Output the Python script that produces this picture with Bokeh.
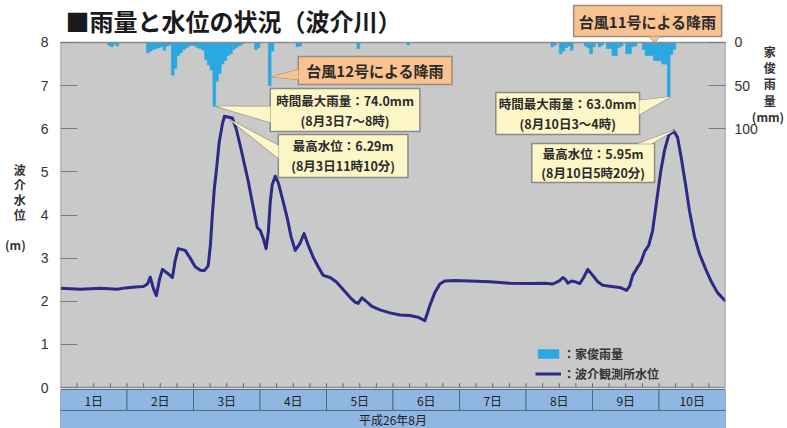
from bokeh.plotting import figure
from bokeh.models import Range1d, LinearAxis, FixedTicker, Label, Legend, LegendItem
from bokeh.embed import file_html
from bokeh.resources import INLINE
from bokeh.core.properties import value

JP = "Noto Sans CJK JP"
FILL_LINE = "\u3000"  # blank line used to lift a stacked axis title
INDENT = "\u3000"     # centres a single kanji over "(mm)"

# Water level at the Hakeigawa gauge (m); hours counted from 1 Aug 00:00
level_hour = [0, 7.2, 14.4, 20.5, 23.4, 27.0, 29.9, 31.4, 32.4, 33.5, 34.6, 35.7, 36.8,
              38.6, 40.4, 41.4, 42.5, 45.0, 46.8, 48.6, 50.5, 51.9, 53.3, 54.1, 54.8,
              55.5, 56.2, 57.3, 58.4, 59.17, 62.0, 63.4, 64.9, 66.3, 67.7, 69.2, 71.0,
              72.1, 73.2, 74.2, 75.0, 75.7, 76.4, 77.5, 78.6, 80.4, 81.8, 83.2, 84.7,
              86.5, 87.9, 89.4, 91.2, 93.0, 94.8, 97.3, 99.5, 101.6, 104.5, 106.3, 107.4,
              108.8, 110.3, 112.4, 115.3, 118.9, 122.5, 126.1, 129.0, 131.5, 133.3, 135.1,
              136.9, 138.7, 142.3, 147.7, 155.0, 162.2, 169.4, 174.8, 177.7, 180.2, 181.3,
              182.3, 183.1, 184.5, 185.9, 187.4, 188.8, 190.3, 192.1, 193.9, 195.7, 198.2,
              201.8, 204.3, 205.4, 206.5, 207.9, 209.4, 210.8, 212.3, 213.7, 215.1, 216.6,
              218.0, 219.5, 221.33, 222.7, 224.1, 225.6, 227.0, 228.8, 230.6, 232.8, 234.9,
              237.1, 240.0]
level_m = [2.30, 2.28, 2.30, 2.28, 2.31, 2.33, 2.34, 2.40, 2.56, 2.30, 2.13, 2.50, 2.74,
           2.65, 2.55, 2.95, 3.22, 3.18, 3.00, 2.80, 2.72, 2.71, 2.82, 3.30, 4.00,
           4.60, 5.00, 5.70, 6.10, 6.29, 6.25, 6.00, 5.60, 5.20, 4.80, 4.30, 3.71,
           3.64, 3.45, 3.22, 3.60, 4.30, 4.70, 4.90, 4.75, 4.30, 3.94, 3.50, 3.18,
           3.35, 3.57, 3.30, 3.02, 2.80, 2.60, 2.55, 2.45, 2.30, 2.09, 1.98, 1.95,
           2.08, 2.00, 1.88, 1.80, 1.73, 1.68, 1.67, 1.63, 1.55, 1.90, 2.20,
           2.40, 2.47, 2.48, 2.47, 2.45, 2.42, 2.41, 2.42, 2.40, 2.48, 2.55,
           2.50, 2.42, 2.47, 2.45, 2.41, 2.55, 2.74, 2.60, 2.45, 2.37, 2.35,
           2.32, 2.25, 2.35, 2.60, 2.75, 2.90, 3.15, 3.30, 3.64, 4.30, 5.00,
           5.50, 5.85, 5.95, 5.80, 5.30, 4.70, 4.10, 3.50, 3.10, 2.75, 2.45,
           2.20, 2.00]

# Hourly rainfall at Kashiro (mm); hour index from 1 Aug 00:00
rain_hour = [17, 18, 19, 20,
             31, 32, 33, 34, 35, 36, 37, 38, 39,
             40, 41, 42, 43, 44, 45, 46, 47, 48,
             49, 50, 51, 52, 53, 54, 55, 56, 57, 58, 59, 60, 61, 62, 63, 64, 65,
             70, 71, 75, 76, 85, 86, 107, 125,
             177, 178, 180, 181, 182, 183, 184, 189, 190, 191, 192,
             194, 195, 197, 198, 199, 200, 201, 202,
             204, 205, 206, 207, 210, 211, 212, 213, 214, 215, 216, 217, 218, 219, 220, 221]
rain_mm = [3, 5, 2, 4,
           12, 10, 8, 7, 6, 5, 9, 4, 3,
           38, 30, 15, 12, 8, 6, 4, 3, 4,
           6, 7, 9, 20, 26, 32, 74.0, 45, 36, 25, 21, 15, 13, 8, 6, 4, 2,
           8, 6, 50, 10, 5, 4, 7, 3,
           5, 3, 13, 10, 6, 4, 9, 4, 6, 13, 5,
           5, 3, 7, 7, 15, 15, 6, 4,
           13, 13, 5, 4, 8, 15, 15, 15, 21, 21, 21, 25, 25, 63.0, 14, 8]

day_labels = ["1日", "2日", "3日", "4日", "5日", "6日", "7日", "8日", "9日", "10日"]
month_label = "平成26年8月"
level_ticks = [0, 1, 2, 3, 4, 5, 6, 7, 8]
rain_ticks = [0, 50, 100]

# ---- figure: the frame covers the full height so the date band and the
# title boxes can live in data space; 8 m of level = 345 px, rain 0-400 mm
# is laid over the same height, growing downward from the top edge.
Y0, Y1 = -0.95072, 8.97391
p = figure(width=787, height=428, x_range=Range1d(0, 240), y_range=Range1d(Y0, Y1),
           output_backend="svg", toolbar_location=None, x_axis_location=None,
           y_axis_location="left", min_border_left=60, min_border_right=61,
           min_border_top=0, min_border_bottom=0)
p.outline_line_color = None
p.background_fill_color = "white"
p.border_fill_color = "white"
p.grid.visible = False
p.extra_y_ranges = {"rain": Range1d((8 - Y0) * 50, (8 - Y1) * 50)}

GRAY = "#c9c9c9"
EDGE = "#8c8c8c"
BAND = "#8fb7e1"
BAND_EDGE = "#4d6a8e"
RAIN = "#2aa8e2"
LEVEL = "#2b2a86"

# plot area
p.quad(left=0, right=240, bottom=0, top=8, fill_color=GRAY, line_color=None)

# hourly rainfall hanging from the top
bars = p.vbar(x=[h + 0.5 for h in rain_hour], width=1.0, top=0, bottom=rain_mm,
              y_range_name="rain", fill_color=RAIN, line_color=RAIN, line_width=0.6)

# water level
line = p.line(level_hour, level_m, line_color=LEVEL, line_width=3, line_join="round")

# frame border
p.quad(left=0, right=240, bottom=0, top=8, fill_color=None, line_color=EDGE, line_width=1.5)

# 6-hour ticks on the bottom edge
six = [h for h in range(6, 240, 6)]
p.segment(x0=six, y0=[0] * len(six), x1=six, y1=[0.1] * len(six), line_color="#666666", line_width=1)

# date band
days = list(range(len(day_labels)))
p.quad(left=[d * 24 for d in days], right=[d * 24 + 24 for d in days],
       top=-0.046, bottom=-0.533, fill_color=BAND, line_color=BAND_EDGE, line_width=1)
p.quad(left=0, right=240, top=-0.533, bottom=-0.99, fill_color=BAND,
       line_color=BAND_EDGE, line_width=1)
p.text(x=[d * 24 + 12 for d in days], y=-0.29, text=day_labels, text_align="center",
       text_baseline="middle", text_font=value(JP), text_font_size="12px", text_color="#222222")
p.text(x=[120], y=[-0.74], text=[month_label], text_align="center", text_baseline="middle",
       text_font=value(JP), text_font_size="12px", text_color="#222222")

# axes
ax = p.yaxis[0]
ax.ticker = FixedTicker(ticks=level_ticks)
ax.axis_line_color = None
ax.major_tick_in = 17
ax.major_tick_out = 0
ax.minor_tick_line_color = None
ax.major_tick_line_color = "#7a7a7a"
ax.major_label_standoff = 12
ax.major_label_text_font = "Liberation Sans"
ax.major_label_text_font_size = "14px"
ax.major_label_text_color = "#333333"
ax.axis_label = "\n".join(["波", "介", "水", "位", "", "(m)", FILL_LINE])
ax.axis_label_orientation = "horizontal"
ax.axis_label_standoff = 12
ax.axis_label_text_font = JP
ax.axis_label_text_font_size = "12px"
ax.axis_label_text_font_style = "bold"
ax.axis_label_text_color = "#333333"
ax.axis_label_text_line_height = 0.89

rax = LinearAxis(y_range_name="rain", ticker=FixedTicker(ticks=rain_ticks))
rax.axis_line_color = None
rax.major_tick_in = 17
rax.major_tick_out = 0
rax.minor_tick_line_color = None
rax.major_tick_line_color = "#7a7a7a"
rax.major_label_standoff = 9
rax.major_label_text_font = "Liberation Sans"
rax.major_label_text_font_size = "14px"
rax.major_label_text_color = "#333333"
rax.axis_label = "\n".join([INDENT + c for c in "家俊雨量"] + ["(mm)"] + [FILL_LINE] * 16)
rax.axis_label_orientation = "horizontal"
rax.axis_label_standoff = -9
rax.axis_label_text_font = JP
rax.axis_label_text_font_size = "12px"
rax.axis_label_text_font_style = "bold"
rax.axis_label_text_color = "#333333"
rax.axis_label_text_line_height = 0.96
p.add_layout(rax, "right")

# title
p.add_layout(Label(x=1.8, y=8.51, text="■雨量と水位の状況（波介川）", text_font=JP,
                   text_font_size="24px", text_font_style="bold", text_baseline="middle",
                   text_color="#1a1a1a"))

# ---- callouts
ORANGE, ORANGE_EDGE = "#f8c390", "#9c8a78"
YELLOW, YELLOW_EDGE = "#fdf6c6", "#8a8a8a"

early_rain = [k for k, h in enumerate(rain_hour) if h < 168]
late_rain = [k for k, h in enumerate(rain_hour) if h >= 168]
i1 = max(early_rain, key=lambda k: rain_mm[k])
i2 = max(late_rain, key=lambda k: rain_mm[k])
rain_peak1_h, rain_peak1 = rain_hour[i1] + 0.5, rain_mm[i1]
rain_peak2_h, rain_peak2 = rain_hour[i2] + 0.5, rain_mm[i2]
early_lv = [k for k, h in enumerate(level_hour) if h < 168]
late_lv = [k for k, h in enumerate(level_hour) if h >= 168]
k1 = max(early_lv, key=lambda k: level_m[k])
k2 = max(late_lv, key=lambda k: level_m[k])


def rain_y(mm):
    return 8 - mm / 50.0


def callout(box, wedge, fill, edge, lines, size, bold=True):
    l, r, b, t = box
    wx, wy = wedge
    p.patch(wx, wy, fill_color=fill, line_color=edge, line_width=1.2)
    p.quad(left=l, right=r, bottom=b, top=t, fill_color=fill, line_color=edge, line_width=1.5)
    # cover the wedge seam on the box edge
    p.patch(wx, wy, fill_color=fill, line_color=None)
    n = len(lines)
    cy = (b + t) / 2
    step = (t - b) / (n + 0.15)
    for i, s in enumerate(lines):
        y = cy + (n - 1) / 2 * step - i * step
        p.text(x=[(l + r) / 2], y=[y], text=[s], text_align="center", text_baseline="middle",
               text_font=value(JP), text_font_size=size, text_color="#2a2a2a",
               text_font_style="bold" if bold else "normal")


# typhoon 12
callout((85.8, 141.3, 7.026, 7.675),
        ([85.9, 76.0, 85.9], [7.374, rain_y(40), 7.142]),
        ORANGE, ORANGE_EDGE, ["台風12号による降雨"], "15px")
callout((75.7, 129.7, 5.936, 6.933),
        ([75.8, rain_peak1_h + 0.7, 75.8], [6.516, rain_y(rain_peak1), 6.145]),
        YELLOW, YELLOW_EDGE,
        [f"時間最大雨量：{rain_peak1:.1f}mm", "(8月3日7～8時)"], "12.5px")
callout((78.6, 125.4, 4.870, 5.867),
        ([78.7, level_hour[k1] + 2.0, 78.7], [5.612, level_m[k1] - 0.08, 5.310]),
        YELLOW, YELLOW_EDGE,
        [f"最高水位：{level_m[k1]:.2f}m", "(8月3日11時10分)"], "12.5px")

# typhoon 11
callout((185.2, 238.6, 8.139, 8.858),
        ([212.6, 214.4, 216.2], [8.14, 8.0, 8.14]),
        ORANGE, ORANGE_EDGE, ["台風11号による降雨"], "15px")
callout((157.1, 209.0, 5.867, 6.841),
        ([208.9, rain_peak2_h + 0.7, 208.9], [6.655, rain_y(rain_peak2), 6.330]),
        YELLOW, YELLOW_EDGE,
        [f"時間最大雨量：{rain_peak2:.1f}mm", "(8月10日3～4時)"], "12.5px")
callout((170.1, 214.4, 4.754, 5.658),
        ([208.3, level_hour[k2] + 0.4, 213.3], [5.65, level_m[k2] + 0.02, 5.65]),
        YELLOW, YELLOW_EDGE,
        [f"最高水位：{level_m[k2]:.2f}m", "(8月10日5時20分)"], "12.5px")

# legend
legend = Legend(items=[LegendItem(label="：家俊雨量", renderers=[bars]),
                       LegendItem(label="：波介観測所水位", renderers=[line])],
                location=(475, 46), orientation="vertical")
legend.label_text_font = JP
legend.label_text_font_size = "12px"
legend.label_text_font_style = "bold"
legend.label_text_color = "#333333"
legend.background_fill_alpha = 0
legend.border_line_color = None
legend.glyph_width = 26
legend.glyph_height = 11
legend.label_height = 18
legend.label_standoff = 2
legend.padding = 3
legend.spacing = 2
legend.margin = 0
p.add_layout(legend)

open("out.html", "w").write(file_html(p, INLINE))
